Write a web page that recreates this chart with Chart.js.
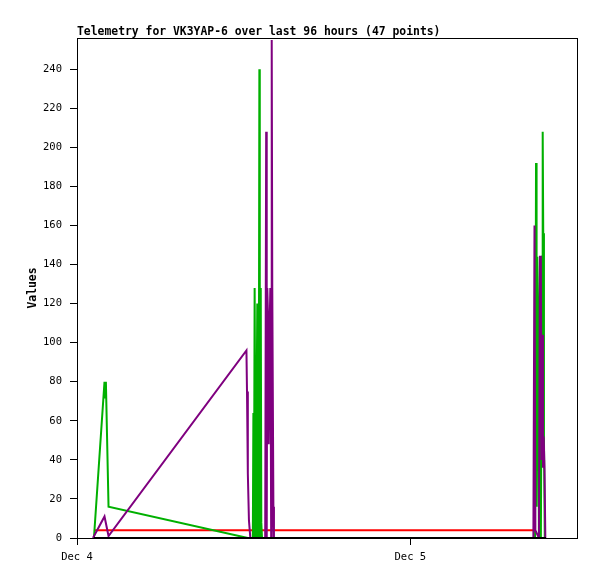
<!DOCTYPE html>
<html>
<head>
<meta charset="utf-8">
<title>Telemetry for VK3YAP-6</title>
<script src="https://cdn.jsdelivr.net/npm/chart.js@4.4.1/dist/chart.umd.min.js"></script>
<style>
  html, body { margin:0; padding:0; background:#fff; }
</style>
</head>
<body>
<canvas id="telemetry" width="597" height="579"></canvas>
<script>
const titleText  = 'Telemetry for VK3YAP-6 over last 96 hours (47 points)';
const yAxisLabel = 'Values';
const xTickHours  = [0, 24];            // hours since Dec 4 00:00
const xTickLabels = ['Dec 4', 'Dec 5'];
const yTickStep = 20;
const yMax = 256;
const xMax = 36;

// series (x = hours since Dec 4 00:00)
const greenHours  = [1.22, 1.98, 2.03, 2.08, 2.27, 12.30, 12.66, 12.70, 12.74, 12.79, 12.83, 12.88, 12.93, 12.98, 13.02, 13.08, 13.13, 13.16, 13.19, 13.23, 13.27, 13.32,
                     32.90, 32.98, 33.05, 33.09, 33.14, 33.20, 33.26, 33.34, 33.40, 33.48, 33.53, 33.57, 33.62, 33.68];
const greenValues = [0, 80, 72, 80, 16, 0, 0, 64, 0, 128, 64, 0, 64, 120, 0, 0, 240, 120, 0, 128, 8, 0,
                     0, 0, 192, 16, 144, 120, 0, 60, 0, 144, 208, 156, 52, 0];

const purpleHours  = [1.15, 1.98, 2.27, 12.20, 12.24, 12.30, 12.38, 12.48,
                      13.55, 13.62, 13.66, 13.70, 13.76, 13.80, 13.84, 13.88, 13.92, 13.98, 14.02, 14.06, 14.10, 14.14, 14.18,
                      32.86, 32.94, 33.00, 33.26, 33.33, 33.40, 33.44, 33.50, 33.55, 33.60, 33.66, 33.72];
const purpleValues = [0, 11, 1, 96, 75, 33, 9, 0,
                      0, 208, 0, 128, 112, 48, 80, 112, 128, 0, 255, 128, 128, 16, 0,
                      0, 160, 4, 0, 144, 144, 40, 104, 36, 52, 36, 0];

const redHours   = [1.22, 33.0];
const redValues  = [4, 4];
const blackHours  = [1.22, 33.77];
const blackValues = [0, 0];

(function() {
  const monoFont = 'DejaVu Sans Mono';

  function series(label, hours, values, color) {
    return {
      label: label,
      data: hours.map((h, i) => ({ x: h, y: values[i] })),
      borderColor: color, backgroundColor: color,
      borderWidth: 2, pointRadius: 0, tension: 0, fill: false
    };
  }

  // frame around the plot + title + y label, gnuplot style
  const framePlugin = {
    id: 'frame',
    afterDraw(chart) {
      const c = chart.ctx, a = chart.chartArea;
      c.save();
      c.strokeStyle = '#000';
      c.lineWidth = 1;
      c.strokeRect(a.left + 0.5, a.top + 0.5, a.right - a.left, a.bottom - a.top);
      c.fillStyle = '#000';
      c.font = 'bold 11.4px "' + monoFont + '"';
      c.textBaseline = 'alphabetic';
      c.textAlign = 'left';
      c.fillText(titleText, a.left, 35);
      c.translate(36, (a.top + a.bottom) / 2);
      c.rotate(-Math.PI / 2);
      c.textAlign = 'center';
      c.fillText(yAxisLabel, 0, 0);
      c.restore();
    }
  };

  const tickFont = { family: monoFont, size: 10.5 };

  new Chart(document.getElementById('telemetry'), {
    type: 'line',
    data: {
      datasets: [
        series('black', blackHours, blackValues, '#000000'),
        series('purple', purpleHours, purpleValues, '#7f007f'),
        series('green', greenHours, greenValues, '#00b000'),
        series('red', redHours, redValues, '#ff0000')
      ]
    },
    options: {
      responsive: false, animation: false, devicePixelRatio: 1,
      layout: { padding: { top: 38, right: 20, left: 0, bottom: 0 } },
      plugins: { legend: { display: false }, tooltip: { enabled: false }, title: { display: false } },
      scales: {
        x: {
          type: 'linear', min: 0, max: xMax,
          afterBuildTicks: s => { s.ticks = xTickHours.map(v => ({ value: v })); },
          afterFit: s => { s.height = 41; },
          ticks: { color: '#000', font: tickFont, padding: 6, maxRotation: 0, autoSkip: false,
                   callback: (v, i) => xTickLabels[i] },
          grid: { drawOnChartArea: false, drawTicks: true, tickLength: 7, color: '#000' },
          border: { display: false }
        },
        y: {
          type: 'linear', min: 0, max: yMax,
          afterBuildTicks: s => { s.ticks = s.ticks.filter(t => t.value % yTickStep === 0); },
          afterFit: s => { s.width = 77; },
          ticks: { stepSize: yTickStep, color: '#000', font: tickFont, padding: 8 },
          grid: { drawOnChartArea: false, drawTicks: true, tickLength: 7, color: '#000' },
          border: { display: false }
        }
      }
    },
    plugins: [framePlugin]
  });
})();
</script>
</body>
</html>
